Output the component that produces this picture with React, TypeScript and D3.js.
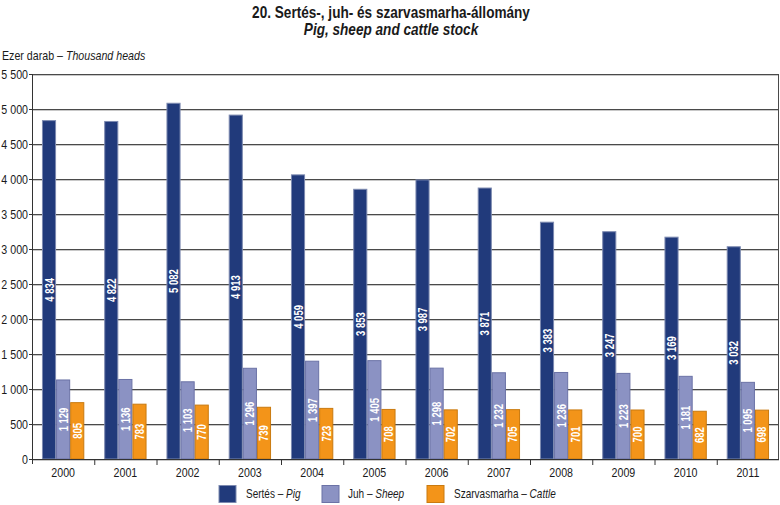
import { useEffect, useRef } from 'react';
import * as d3 from 'd3';

const years = ['2000', '2001', '2002', '2003', '2004', '2005', '2006', '2007', '2008', '2009', '2010', '2011'];
const pig = [4834, 4822, 5082, 4913, 4059, 3853, 3987, 3871, 3383, 3247, 3169, 3032];
const sheep = [1129, 1136, 1103, 1296, 1397, 1405, 1298, 1232, 1236, 1223, 1181, 1095];
const cattle = [805, 783, 770, 739, 723, 708, 702, 705, 701, 700, 682, 698];
const yTicks = [0, 500, 1000, 1500, 2000, 2500, 3000, 3500, 4000, 4500, 5000, 5500];

const seriesNames = [
  { hu: 'Sertés', en: 'Pig' },
  { hu: 'Juh', en: 'Sheep' },
  { hu: 'Szarvasmarha', en: 'Cattle' },
];
const fills = ['#213a7b', '#8b92c3', '#f39419'];
const strokes = ['#7d8ab0', '#6b72a6', '#c97a10'];

// no narrow font installed, so Liberation Sans is squeezed horizontally
const FONT = '"Liberation Sans", Arial, sans-serif';

const fmt = (v: number) => {
  const s = String(v);
  return s.length > 3 ? s.slice(0, s.length - 3) + ' ' + s.slice(-3) : s;
};

type Sel = d3.Selection<SVGGElement | SVGSVGElement, unknown, null, undefined>;

const narrowText = (parent: Sel, x: number, y: number, size: number, sx = 0.82, extra = '') =>
  parent.append('text')
    .attr('transform', `translate(${x},${y}) ${extra} scale(${sx},1)`)
    .attr('font-family', FONT)
    .attr('font-size', size)
    .attr('fill', '#1a1a1a');

const App = () => {
  const svgRef = useRef<SVGSVGElement>(null);

  useEffect(() => {
    if (!svgRef.current) return;
    const svg = d3.select(svgRef.current) as unknown as Sel;
    svg.selectAll('*').remove();

    const left = 32, right = 779, top = 74, bottom = 459;

    const x0 = d3.scaleBand<string>().domain(years).range([left, right]).padding(0);
    const bw = x0.bandwidth();
    const x1 = d3.scaleBand<number>().domain([0, 1, 2]).range([bw * 0.16, bw * 0.84]).padding(0);
    const y = d3.scaleLinear().domain([0, 5500]).range([bottom, top]);

    // titles
    narrowText(svg, 391, 18, 16, 0.85).attr('text-anchor', 'middle').attr('font-weight', 'bold')
      .text('20. Sertés-, juh- és szarvasmarha-állomány');
    narrowText(svg, 391, 35, 16, 0.85).attr('text-anchor', 'middle').attr('font-weight', 'bold')
      .attr('font-style', 'italic').text('Pig, sheep and cattle stock');

    const unit = narrowText(svg, 2, 60, 13);
    unit.append('tspan').text('Ezer darab – ');
    unit.append('tspan').attr('font-style', 'italic').text('Thousand heads');

    // gridlines
    const grid = svg.append('g');
    yTicks.forEach(t => {
      grid.append('line').attr('x1', left).attr('x2', right)
        .attr('y1', y(t) + 1.5).attr('y2', y(t) + 1.5)
        .attr('stroke', '#c8c8c8').attr('stroke-width', 1);
      grid.append('line').attr('x1', left).attr('x2', right)
        .attr('y1', y(t) + 0.5).attr('y2', y(t) + 0.5)
        .attr('stroke', '#4a4a4a').attr('stroke-width', 1);
    });
    grid.append('line').attr('x1', right - 0.5).attr('x2', right - 0.5)
      .attr('y1', top).attr('y2', bottom).attr('stroke', '#4a4a4a');

    // y labels
    const yAxis = svg.append('g') as unknown as Sel;
    yTicks.forEach(t => {
      narrowText(yAxis, 28, y(t) + 5, 13).attr('text-anchor', 'end').text(fmt(t));
      yAxis.append('line').attr('x1', left - 3).attr('x2', left)
        .attr('y1', y(t) + 0.5).attr('y2', y(t) + 0.5).attr('stroke', '#333');
    });

    // bars
    const series = [pig, sheep, cattle];
    const groups = svg.append('g');
    years.forEach((yr, i) => {
      const g = groups.append('g').attr('transform', `translate(${x0(yr)},0)`) as unknown as Sel;
      series.forEach((vals, s) => {
        const v = vals[i];
        const bx = x1(s)!;
        const w = x1.bandwidth();
        g.append('rect').attr('x', bx + 0.5).attr('y', y(v)).attr('width', w - 1)
          .attr('height', bottom - y(v))
          .attr('fill', fills[s]).attr('stroke', strokes[s]).attr('stroke-width', 1);
        const cx = bx + w / 2;
        const cy = (y(v) + bottom) / 2;
        narrowText(g, cx + 4.5, cy, 12.5, 0.76, 'rotate(-90)')
          .attr('text-anchor', 'middle').attr('font-weight', 'bold').attr('fill', '#fff')
          .text(fmt(v));
      });
    });

    // x axis
    const xAxis = svg.append('g') as unknown as Sel;
    xAxis.append('line').attr('x1', left).attr('x2', right)
      .attr('y1', bottom + 0.5).attr('y2', bottom + 0.5).attr('stroke', '#333');
    xAxis.append('line').attr('x1', left + 0.5).attr('x2', left + 0.5)
      .attr('y1', top).attr('y2', bottom + 5).attr('stroke', '#333');
    years.forEach((yr, i) => {
      if (i > 0) {
        xAxis.append('line').attr('x1', x0(yr)! + 0.5).attr('x2', x0(yr)! + 0.5)
          .attr('y1', bottom).attr('y2', bottom + 6).attr('stroke', '#333');
      }
      narrowText(xAxis, x0(yr)! + bw / 2, bottom + 18, 13).attr('text-anchor', 'middle').text(yr);
    });

    // legend
    const boxX = [219, 322, 427];
    const textX = [246, 348, 454];
    const legend = svg.append('g') as unknown as Sel;
    seriesNames.forEach((n, s) => {
      legend.append('rect').attr('x', boxX[s]).attr('y', 485.5).attr('width', 17).attr('height', 17)
        .attr('fill', fills[s]).attr('stroke', strokes[s]);
      const t = narrowText(legend, textX[s], 498, 13, 0.77);
      t.append('tspan').text(`${n.hu} – `);
      t.append('tspan').attr('font-style', 'italic').text(n.en);
    });
  }, []);

  return (
    <div style={{ position: 'absolute', left: 0, top: 0 }}>
      <svg ref={svgRef} width={780} height={505} style={{ display: 'block', background: '#fff' }} />
    </div>
  );
};

export default App;
